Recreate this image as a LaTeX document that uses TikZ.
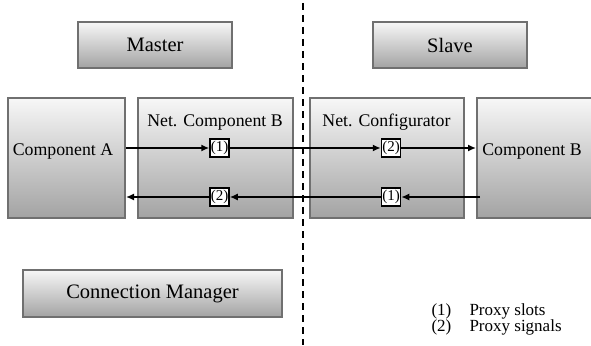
\documentclass[tikz,border=0pt]{standalone}
\usepackage{fontspec}
\setmainfont{LiberationSerif}[Extension=.ttf,UprightFont=*-Regular,BoldFont=*-Bold,ItalicFont=*-Italic,BoldItalicFont=*-BoldItalic]
\usetikzlibrary{arrows.meta}
\definecolor{boxedge}{HTML}{707070}
\definecolor{boxtop}{HTML}{F7F7F7}
\definecolor{boxbot}{HTML}{A3A3A3}

\begin{document}
\begin{tikzpicture}[x=1pt,y=-1pt,font=\rmfamily\fontsize{17.8}{20}\selectfont,
    >={Latex[length=8pt,width=7pt]},
    box/.style={draw=boxedge,line width=2pt,top color=boxtop,bottom color=boxbot,inner sep=0pt},
    head/.style={box,minimum width=154pt,minimum height=46pt,font=\rmfamily\fontsize{20.5}{24}\selectfont},
    comp/.style={box,minimum height=120pt},
    proxy/.style={draw,fill=white,line width=1.5pt,inner sep=0pt,minimum width=19pt,minimum height=18pt,font=\rmfamily\fontsize{15}{15}\selectfont},
    legend/.style={anchor=base west,font=\rmfamily\fontsize{17}{18}\selectfont}]
    \useasboundingbox (0,0) rectangle (591,345);
    % upper headers
    \node[head] (master) at (155,45) {Master};
    \node[head] (slave) at (450,45) {Slave};
    \node[head,minimum width=259pt,minimum height=47pt] (connmgr) at (152.5,293.5) {Connection Manager};
    % components
    \node[comp,minimum width=117pt] (compA) at (66.5,158) {};
    \node[comp,minimum width=155pt] (netB) at (215.5,158) {};
    \node[comp,minimum width=154pt] (netConf) at (387,158) {};
    \node[comp,minimum width=123pt] (compB) at (538.5,158) {};
    \node (compAtxt) at (63,152) {Component A};
    \node (netBtxt) at (215,123) {Net. Component B};
    \node (netConftxt) at (386.5,122) {Net. Configurator};
    \node (compBtxt) at (532,152) {Component B};
    % master / slave split
    \draw[line width=2pt,dash pattern=on 7pt off 5pt] (303,3) -- (303,345);
    % proxies
    \node[proxy] (pa) at (219.5,148) {(1)};
    \node[proxy] (pb) at (391,148) {(2)};
    \node[proxy] (qa) at (391,197) {(1)};
    \node[proxy] (qb) at (219.5,197) {(2)};
    \draw[->,line width=1.5pt] (pa -| compA.east) -- (pa);
    \draw[->,line width=1.5pt] (pa) -- (pb);
    \draw[->,line width=1.5pt] (pb) -- (pb -| compB.west);
    \draw[->,line width=1.5pt] ([xshift=4pt]qa -| compB.west) -- (qa);
    \draw[->,line width=1.5pt] (qa) -- (qb);
    \draw[->,line width=1.5pt] (qb) -- (qb -| compA.east);
    % legend
    \node[legend] (l1) at (428,315) {(1)};
    \node[legend] (l1t) at (466,315) {Proxy slots};
    \node[legend] (l2) at (428,331) {(2)};
    \node[legend] (l2t) at (466,331) {Proxy signals};
\end{tikzpicture}
\end{document}
